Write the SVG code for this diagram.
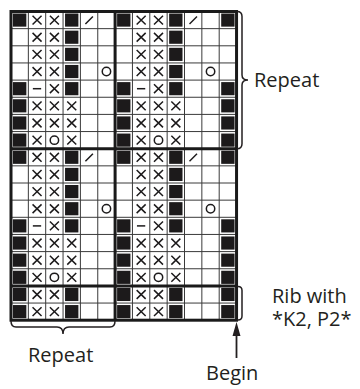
<svg xmlns="http://www.w3.org/2000/svg" xmlns:xlink="http://www.w3.org/1999/xlink" width="360" height="389" viewBox="0 0 360 389">
<style>
.thin{stroke:#3a3a3a;stroke-width:1;fill:none}
.thick{stroke:#1a1a1a;stroke-width:3;fill:none}
.blk{fill:#1c1a1b}
.sym{stroke:#1c1a1b;stroke-width:1.5;fill:none;stroke-linecap:butt}
.lbl{font-family:"Open Sans","Noto Sans",sans-serif;font-size:20px;fill:#231f20}
.brace{stroke:#231f20;stroke-width:1.5;fill:none}
</style>
<defs>
<rect id="b" class="blk" x="2" y="2" width="13.35" height="13.15"/>
<path id="x" class="sym" d="M4.2,4.2 L13.2,13 M13.2,4.2 L4.2,13"/>
<circle id="o" class="sym" cx="8.7" cy="8.6" r="4.2"/>
<path id="s" class="sym" d="M5,12.5 L12.5,5"/>
<path id="d" class="sym" d="M4.5,8.6 L12.8,8.6"/>
<g id="rep">
<use href="#b" x="0" y="0"/><use href="#x" x="17.35" y="0"/><use href="#x" x="34.7" y="0"/><use href="#b" x="52.05" y="0"/><use href="#s" x="69.4" y="0"/>
<use href="#x" x="17.35" y="17.15"/><use href="#x" x="34.7" y="17.15"/><use href="#b" x="52.05" y="17.15"/>
<use href="#x" x="17.35" y="34.3"/><use href="#x" x="34.7" y="34.3"/><use href="#b" x="52.05" y="34.3"/>
<use href="#x" x="17.35" y="51.45"/><use href="#x" x="34.7" y="51.45"/><use href="#b" x="52.05" y="51.45"/><use href="#o" x="86.75" y="51.45"/>
<use href="#b" x="0" y="68.6"/><use href="#d" x="17.35" y="68.6"/><use href="#x" x="34.7" y="68.6"/><use href="#b" x="52.05" y="68.6"/>
<use href="#b" x="0" y="85.75"/><use href="#x" x="17.35" y="85.75"/><use href="#x" x="34.7" y="85.75"/><use href="#x" x="52.05" y="85.75"/>
<use href="#b" x="0" y="102.9"/><use href="#x" x="17.35" y="102.9"/><use href="#x" x="34.7" y="102.9"/><use href="#x" x="52.05" y="102.9"/>
<use href="#b" x="0" y="120.05"/><use href="#x" x="17.35" y="120.05"/><use href="#o" x="34.7" y="120.05"/><use href="#x" x="52.05" y="120.05"/>
</g>
<g id="edge">
<use href="#b" x="0" y="0"/><use href="#b" x="0" y="68.6"/><use href="#b" x="0" y="85.75"/><use href="#b" x="0" y="102.9"/><use href="#b" x="0" y="120.05"/>
</g>
<g id="rib">
<use href="#b" x="0" y="0"/><use href="#x" x="17.35" y="0"/><use href="#x" x="34.7" y="0"/><use href="#b" x="52.05" y="0"/>
<use href="#b" x="0" y="17.15"/><use href="#x" x="17.35" y="17.15"/><use href="#x" x="34.7" y="17.15"/><use href="#b" x="52.05" y="17.15"/>
</g>
</defs>
<rect width="360" height="389" fill="#fff"/>
<g id="chart">
<g id="cells">
<use href="#rep" x="11" y="11.5"/>
<use href="#rep" x="115.1" y="11.5"/>
<use href="#edge" x="219.2" y="11.5"/>
<use href="#rep" x="11" y="148.7"/>
<use href="#rep" x="115.1" y="148.7"/>
<use href="#edge" x="219.2" y="148.7"/>
<use href="#rib" x="11" y="285.9"/>
<use href="#rib" x="115.1" y="285.9"/>
<use href="#b" x="219.2" y="285.9"/>
<use href="#b" x="219.2" y="303.05"/>
</g>
<g id="gridlines">
<path class="thin" d="M28.35,11.5V320.2M45.7,11.5V320.2M63.05,11.5V320.2M80.4,11.5V320.2M97.75,11.5V320.2M132.45,11.5V320.2M149.8,11.5V320.2M167.15,11.5V320.2M184.5,11.5V320.2M201.85,11.5V320.2M219.2,11.5V320.2"/>
<path class="thin" d="M11,28.65H236.55M11,45.8H236.55M11,62.95H236.55M11,80.1H236.55M11,97.25H236.55M11,114.4H236.55M11,131.55H236.55M11,165.85H236.55M11,183H236.55M11,200.15H236.55M11,217.3H236.55M11,234.45H236.55M11,251.6H236.55M11,268.75H236.55M11,303.05H236.55"/>
<path class="thick" d="M115.1,11.5V320.2M11,148.7H236.55M11,285.9H236.55"/>
<rect class="thick" x="11" y="11.5" width="225.55" height="308.7"/>
</g>
</g>
<g id="connectors">
<path class="brace" d="M237,11.5 q5,0 5,5 V75 q0,5 6,5 q-6,0 -6,5 V143.7 q0,5 -5,5"/>
<path class="brace" d="M11,321 q0,6 5,6 H57 q6,0 6,7 q0,-7 6,-7 H110 q5,0 5,-6"/>
<path class="brace" d="M237,286.5 H238 q4,0 4,4 V316 q0,4 -4,4 H237"/>
<line x1="236.5" y1="334" x2="236.5" y2="358" stroke="#231f20" stroke-width="1.8"/>
<polygon points="236.5,322 232.5,336 240.5,336" fill="#231f20"/>
</g>
<g id="labels">
<text class="lbl" x="254" y="87">Repeat</text>
<text class="lbl" x="28" y="362">Repeat</text>
<text class="lbl" x="272" y="303">Rib with</text>
<text class="lbl" x="272" y="326">*K2, P2*</text>
<text class="lbl" x="206" y="380">Begin</text>
</g>
</svg>
